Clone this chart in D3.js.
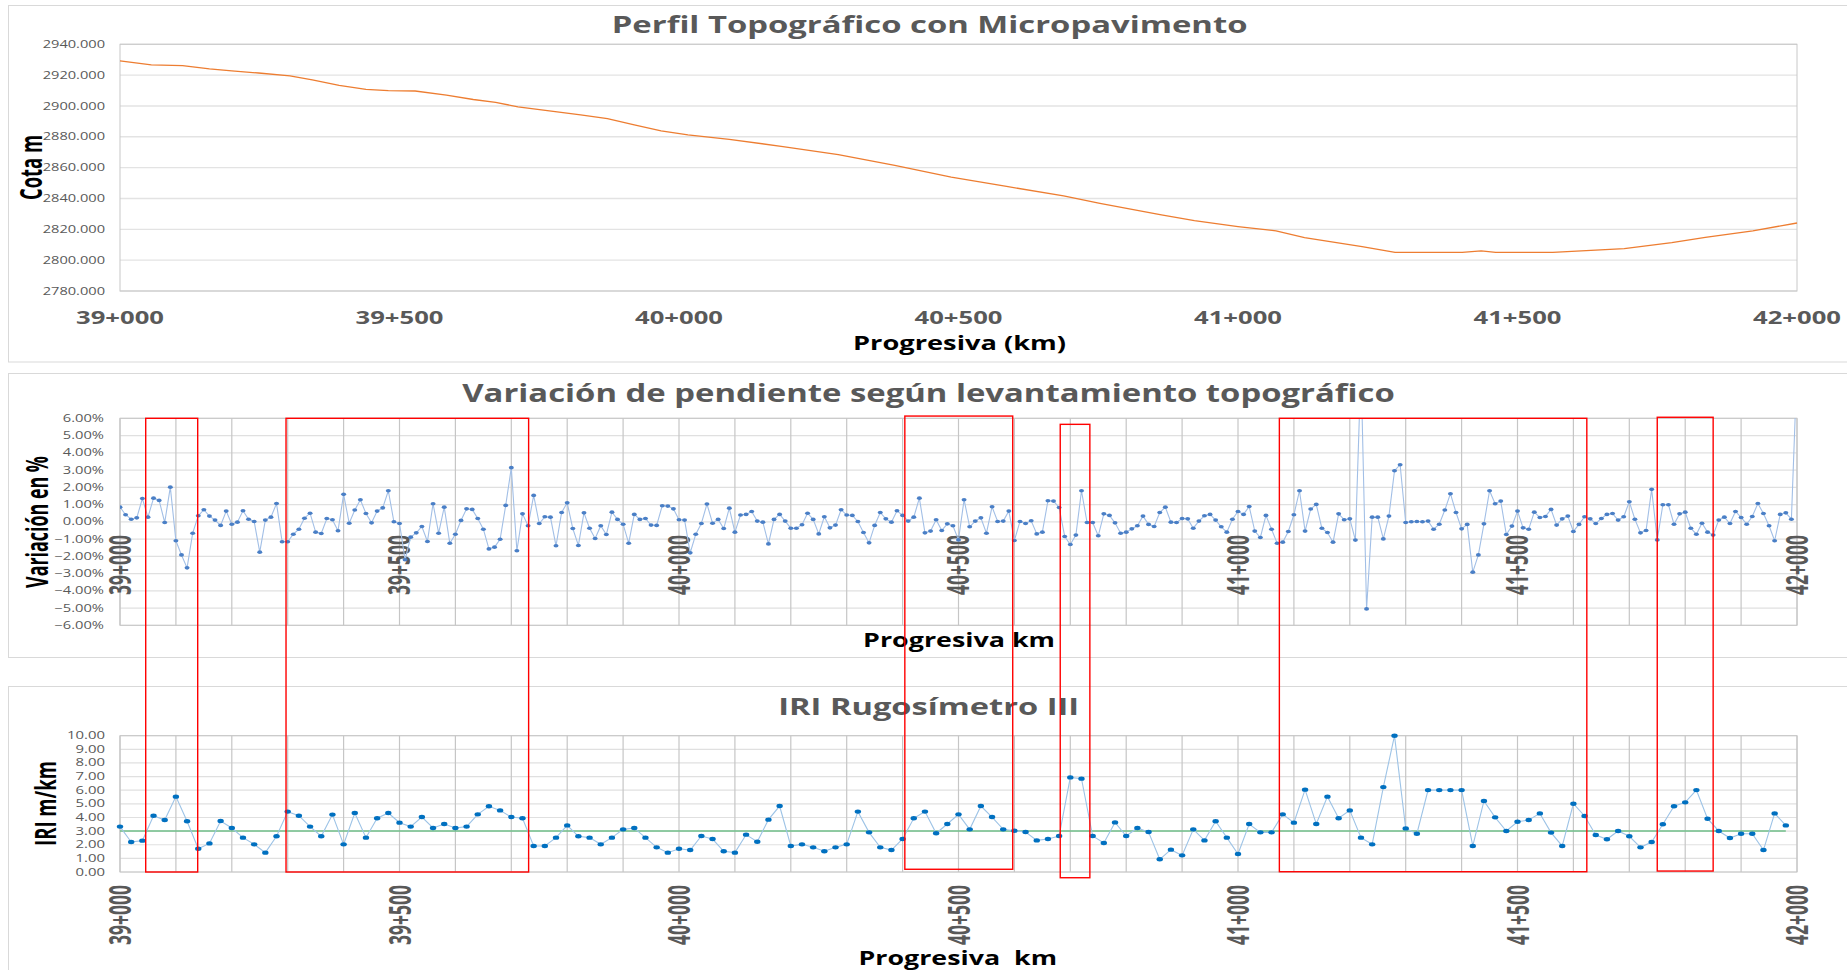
<!DOCTYPE html>
<html>
<head>
<meta charset="utf-8">
<script src="https://cdn.jsdelivr.net/npm/d3@7"></script>
<style>
body{margin:0;background:#fff;}
svg{display:block;}
text{font-family:"Open Sans",sans-serif;}
</style>
</head>
<body>
<svg id="chart" width="1847" height="970"></svg>
<script>
// perfil topografico (km, cota m)
var perfilKm = [39000,39056,39112,39160,39200,39248,39304,39344,39392,39440,39480,39528,39584,39632,39672,39712,39768,39824,39872,39920,39968,40016,
  40090,40186,40285,40386,40487,40586,40688,40753,40863,40922,41000,41068,41119,41222,41281,41401,41435,41461,41563,41691,41776,41836,41921,42000];
var perfilCota = [2929.2,2926.6,2926.2,2924.0,2922.7,2921.4,2919.5,2916.9,2913.4,2910.8,2910.0,2909.7,2907.1,2904.2,2902.4,2899.4,2896.8,2894.2,2891.8,2887.7,2883.8,2881.2,
  2878.3,2873.7,2868.4,2861.5,2853.9,2847.8,2841.7,2836.9,2829.4,2825.6,2821.8,2819.0,2814.6,2808.8,2805.1,2805.1,2806.0,2805.0,2805.1,2807.5,2811.4,2814.8,2819.0,2824.1];

// variacion de pendiente (%), cada 10 m desde 39+000
var pendStart = 39000, pendStep = 10;
var pendiente = [
  0.85,0.41,0.15,0.23,1.35,0.27,1.37,1.24,-0.04,2.01,
  -1.10,-1.92,-2.67,-0.66,0.35,0.70,0.33,0.10,-0.21,0.62,
  -0.14,-0.02,0.64,0.15,0.02,-1.76,0.10,0.27,1.06,-1.16,
  -1.16,-0.72,-0.43,0.21,0.50,-0.60,-0.68,0.19,0.12,-0.52,
  1.59,-0.08,0.68,1.28,0.48,-0.06,0.62,0.81,1.80,0.00,
  -0.10,-2.20,-0.89,-0.64,-0.27,-1.14,1.05,-0.66,0.85,-1.24,
  -0.72,0.08,0.75,0.72,0.19,-0.43,-1.57,-1.47,-1.01,0.95,
  3.14,-1.68,0.46,-0.23,1.53,-0.10,0.29,0.27,-1.39,0.54,
  1.10,-0.39,-1.37,0.52,-0.37,-0.97,-0.23,-0.74,0.56,0.14,
  -0.14,-1.24,0.43,0.14,0.19,-0.19,-0.21,0.93,0.91,0.75,
  0.12,0.10,-1.80,-0.72,-0.10,1.03,-0.08,0.14,-0.39,0.79,
  -0.60,0.39,0.43,0.60,0.04,-0.02,-1.28,0.14,0.43,0.04,
  -0.37,-0.37,-0.17,0.50,0.14,-0.70,0.29,-0.35,-0.19,0.70,
  0.39,0.37,0.02,-0.62,-1.22,-0.21,0.54,0.17,-0.02,0.64,
  0.37,0.04,0.27,1.37,-0.64,-0.54,0.12,-0.50,-0.12,-0.23,
  -1.05,1.28,-0.29,0.04,0.23,-0.66,0.87,0.02,0.04,0.62,
  -1.08,0.02,-0.10,0.06,-0.70,-0.60,1.22,1.20,0.83,-0.85,
  -1.32,-0.77,1.80,-0.04,-0.04,-0.81,0.46,0.37,-0.06,-0.66,
  -0.60,-0.41,-0.23,0.33,-0.15,-0.27,0.54,0.85,-0.02,-0.04,
  0.19,0.17,-0.37,0.04,0.35,0.43,0.10,-0.29,-0.60,0.15,
  0.60,0.43,0.89,-0.54,-0.91,0.37,-0.43,-1.24,-1.18,-0.56,
  0.41,1.80,-0.54,0.74,1.01,-0.37,-0.62,-1.18,0.46,0.12,
  0.17,-1.06,9.0,-5.05,0.27,0.27,-0.99,0.33,2.96,3.31,
  -0.04,0.00,0.02,0.00,0.04,-0.43,-0.14,0.68,1.63,0.54,
  -0.41,-0.15,-2.92,-1.92,-0.12,1.80,1.05,1.20,-0.74,-0.25,
  0.62,-0.35,-0.43,0.56,0.25,0.31,0.72,-0.19,0.17,0.33,
  -0.56,-0.15,0.29,0.17,-0.10,0.19,0.43,0.48,0.10,0.29,
  1.16,0.15,-0.64,-0.50,1.88,-1.05,0.99,0.99,-0.14,0.46,
  0.56,-0.37,-0.72,-0.08,-0.60,-0.77,0.10,0.27,-0.10,0.60,
  0.25,-0.14,0.31,1.06,0.48,-0.23,-1.10,0.43,0.52,0.15,
  9.0];

// IRI rugosimetro (m/km), cada 20 m desde 39+000
var iriStart = 39000, iriStep = 20;
var iri = [
  3.33,2.20,2.30,4.13,3.81,5.53,3.72,1.71,2.10,3.74,
  3.23,2.52,2.03,1.42,2.62,4.43,4.13,3.33,2.62,4.21,
  2.03,4.33,2.52,3.94,4.33,3.62,3.33,4.03,3.23,3.52,
  3.23,3.33,4.23,4.82,4.52,4.03,3.94,1.91,1.91,2.52,
  3.42,2.62,2.52,2.03,2.52,3.13,3.23,2.52,1.81,1.42,
  1.71,1.61,2.64,2.42,1.52,1.42,2.74,2.22,3.84,4.84,
  1.91,2.03,1.81,1.52,1.81,2.03,4.43,2.91,1.81,1.61,
  2.42,3.94,4.43,2.84,3.52,4.23,3.13,4.84,4.03,3.13,
  3.03,2.93,2.32,2.42,2.64,6.94,6.85,2.64,2.13,3.64,
  2.64,3.23,2.93,0.93,1.64,1.22,3.13,2.32,3.72,2.52,
  1.32,3.52,2.91,2.91,4.23,3.62,6.04,3.52,5.53,3.94,
  4.52,2.52,2.03,6.23,10.0,3.20,2.81,6.01,6.01,6.01,
  6.01,1.91,5.21,4.01,3.01,3.69,3.81,4.30,2.89,1.91,
  5.01,4.11,2.71,2.40,3.01,2.62,1.81,2.20,3.50,4.82,
  5.11,6.01,3.91,3.01,2.49,2.81,2.81,1.61,4.30,3.42];
var iriLimite = 3.0;

// tramos marcados en rojo (km inicio, km fin, tope en %, base en IRI)
var tramoIni = [39046,39297,40404,40682,41074,41750];
var tramoFin = [39139,39731,40597,40735,41624,41850];
var tramoTop = [6.0,6.0,6.13,5.65,6.0,6.06];
var tramoBase = [0.0,0.0,0.2,-0.42,0.02,0.07];

var xTicks = [39000,39500,40000,40500,41000,41500,42000];
var xTickLabels = ["39+000","39+500","40+000","40+500","41+000","41+500","42+000"];

var svg = d3.select("#chart");

function txt(g, s, o){
  var t = g.append("text").text(s)
    .attr("font-size", o.size)
    .attr("font-weight", o.bold ? "bold" : "normal")
    .attr("fill", o.fill || "#595959")
    .attr("text-anchor", o.anchor || "middle");
  if (o.dy) t.attr("dy", o.dy);
  if (o.pre) t.style("white-space", "pre");
  var n = t.node().getComputedTextLength();
  var k = o.len ? o.len / n : (o.k || 1);
  if (o.rot) t.attr("transform", "translate(" + o.x + "," + o.y + ") scale(1," + k + ") rotate(-90)");
  else t.attr("transform", "translate(" + o.x + "," + o.y + ") scale(" + k + ",1)");
  return t;
}

var x = d3.scaleLinear().domain([39000, 42000]).range([120, 1797]);
var y1 = d3.scaleLinear().domain([2780, 2940]).range([291, 44.3]);
var y2 = d3.scaleLinear().domain([-6, 6]).range([625.3, 418.3]);
var y3 = d3.scaleLinear().domain([0, 10]).range([872, 735.7]);

// panel frames
svg.append("rect").attr("x", 8.5).attr("y", 5.5).attr("width", 1900).attr("height", 356.5)
  .attr("fill", "none").attr("stroke", "#d9d9d9");
svg.append("rect").attr("x", 8.5).attr("y", 373.5).attr("width", 1900).attr("height", 284)
  .attr("fill", "none").attr("stroke", "#d9d9d9");
svg.append("rect").attr("x", 8.5).attr("y", 686.5).attr("width", 1900).attr("height", 400)
  .attr("fill", "none").attr("stroke", "#d9d9d9");

// ---------- chart 1 : perfil
var g1 = svg.append("g");
g1.selectAll(".h1").data(d3.range(2780, 2941, 20)).enter().append("line")
  .attr("x1", x(39000)).attr("x2", x(42000))
  .attr("y1", function(d){ return y1(d); }).attr("y2", function(d){ return y1(d); })
  .attr("stroke", "#e3e3e3").attr("stroke-width", 1.4);
g1.append("rect").attr("x", x(39000)).attr("y", y1(2940)).attr("width", x(42000) - x(39000)).attr("height", y1(2780) - y1(2940))
  .attr("fill", "none").attr("stroke", "#c8c8c8");
d3.range(2780, 2941, 20).forEach(function(v){
  txt(g1, d3.format(".3f")(v), {x: 105, y: y1(v), size: 10.3, anchor: "end", dy: "0.35em", k: 1.42});
});
xTicks.forEach(function(v, i){
  txt(g1, xTickLabels[i], {x: x(v), y: 324, size: 18, bold: true, len: 88});
});
var line1 = d3.line().x(function(d, i){ return x(perfilKm[i]); }).y(function(d){ return y1(d); });
g1.append("path").datum(perfilCota).attr("d", line1)
  .attr("fill", "none").attr("stroke", "#ed7d31").attr("stroke-width", 1.3);
txt(g1, "Perfil Topográfico con Micropavimento", {x: 929.6, y: 33.3, size: 24, bold: true, len: 636});
txt(g1, "Progresiva (km)", {x: 959.5, y: 350, size: 19.6, bold: true, fill: "#000", len: 213});
txt(g1, "Cota m", {x: 42, y: 167.5, size: 30.8, bold: true, fill: "#000", rot: true, len: 65});

// ---------- chart 2 : variacion de pendiente
var g2 = svg.append("g");
g2.selectAll(".h2").data(d3.range(-6, 7, 1)).enter().append("line")
  .attr("x1", x(39000)).attr("x2", x(42000))
  .attr("y1", function(d){ return y2(d); }).attr("y2", function(d){ return y2(d); })
  .attr("stroke", "#e0e0e0").attr("stroke-width", 1.2);
g2.selectAll(".v2").data(d3.range(39000, 42001, 100)).enter().append("line")
  .attr("x1", function(d){ return x(d); }).attr("x2", function(d){ return x(d); })
  .attr("y1", y2(6)).attr("y2", y2(-6))
  .attr("stroke", "#c6c6c6").attr("stroke-width", 1.2);
g2.append("rect").attr("x", x(39000)).attr("y", y2(6)).attr("width", x(42000) - x(39000)).attr("height", y2(-6) - y2(6))
  .attr("fill", "none").attr("stroke", "#c6c6c6");
d3.range(-6, 7, 1).forEach(function(v){
  txt(g2, d3.format(".2f")(v) + "%", {x: 104, y: y2(v), size: 10, anchor: "end", dy: "0.35em", k: 1.47});
});
xTicks.forEach(function(v, i){
  txt(g2, xTickLabels[i], {x: x(v) + 10.5, y: 565, size: 30, bold: true, rot: true, len: 60});
});
svg.append("clipPath").attr("id", "clip2").append("rect")
  .attr("x", x(39000)).attr("y", y2(6)).attr("width", x(42000) - x(39000) + 1).attr("height", y2(-6) - y2(6));
var line2 = d3.line().x(function(d, i){ return x(pendStart + i * pendStep); }).y(function(d){ return y2(d); });
var p2 = g2.append("g").attr("clip-path", "url(#clip2)");
p2.append("path").datum(pendiente).attr("d", line2)
  .attr("fill", "none").attr("stroke", "#a2bfe6").attr("stroke-width", 1.1);
p2.selectAll("ellipse").data(pendiente).enter().append("ellipse")
  .attr("cx", function(d, i){ return x(pendStart + i * pendStep); })
  .attr("cy", function(d){ return y2(d); })
  .attr("rx", 2.5).attr("ry", 1.8)
  .attr("fill", "#4a7fc6");
txt(g2, "Variación de pendiente según levantamiento topográfico", {x: 928.5, y: 401.7, size: 25.5, bold: true, len: 933});
txt(g2, "Progresiva km", {x: 959, y: 647.3, size: 19.6, bold: true, fill: "#000", len: 192});
txt(g2, "Variación en %", {x: 48.2, y: 522, size: 30, bold: true, fill: "#000", rot: true, len: 132});

// ---------- chart 3 : IRI
var g3 = svg.append("g");
g3.selectAll(".h3").data(d3.range(0, 11, 1)).enter().append("line")
  .attr("x1", x(39000)).attr("x2", x(42000))
  .attr("y1", function(d){ return y3(d); }).attr("y2", function(d){ return y3(d); })
  .attr("stroke", "#e0e0e0").attr("stroke-width", 1.2);
g3.selectAll(".v3").data(d3.range(39000, 42001, 100)).enter().append("line")
  .attr("x1", function(d){ return x(d); }).attr("x2", function(d){ return x(d); })
  .attr("y1", y3(10)).attr("y2", y3(0))
  .attr("stroke", "#c6c6c6").attr("stroke-width", 1.2);
g3.append("rect").attr("x", x(39000)).attr("y", y3(10)).attr("width", x(42000) - x(39000)).attr("height", y3(0) - y3(10))
  .attr("fill", "none").attr("stroke", "#c6c6c6");
d3.range(0, 11, 1).forEach(function(v){
  txt(g3, d3.format(".2f")(v), {x: 105, y: y3(v), size: 10, anchor: "end", dy: "0.35em", k: 1.49});
});
xTicks.forEach(function(v, i){
  txt(g3, xTickLabels[i], {x: x(v) + 11, y: 915, size: 30, bold: true, rot: true, len: 60});
});
var iriKm = iri.map(function(d, i){ return iriStart + i * iriStep; });
g3.append("line")
  .attr("x1", x(iriKm[0])).attr("x2", x(iriKm[iriKm.length - 1]))
  .attr("y1", y3(iriLimite)).attr("y2", y3(iriLimite))
  .attr("stroke", "#70bf8a").attr("stroke-width", 1.5);
var line3 = d3.line().x(function(d, i){ return x(iriKm[i]); }).y(function(d){ return y3(d); });
g3.append("path").datum(iri).attr("d", line3)
  .attr("fill", "none").attr("stroke", "#9dc3e6").attr("stroke-width", 1.1);
g3.selectAll("ellipse").data(iri).enter().append("ellipse")
  .attr("cx", function(d, i){ return x(iriKm[i]); })
  .attr("cy", function(d){ return y3(d); })
  .attr("rx", 3.2).attr("ry", 2.2)
  .attr("fill", "#0070c0");
txt(g3, "IRI Rugosímetro III", {x: 928.7, y: 715, size: 23.5, bold: true, len: 301});
txt(g3, "Progresiva  km", {x: 957.7, y: 965, size: 19.6, bold: true, fill: "#000", len: 198.5, pre: true});
txt(g3, "IRI m/km", {x: 56, y: 803.5, size: 28.7, bold: true, fill: "#000", rot: true, len: 85});

// ---------- tramos en rojo
svg.append("g").selectAll("rect").data(tramoIni).enter().append("rect")
  .attr("x", function(d){ return x(d); })
  .attr("y", function(d, i){ return y2(tramoTop[i]); })
  .attr("width", function(d, i){ return x(tramoFin[i]) - x(d); })
  .attr("height", function(d, i){ return y3(tramoBase[i]) - y2(tramoTop[i]); })
  .attr("fill", "none").attr("stroke", "#ff0000").attr("stroke-width", 1.4);
</script>
</body>
</html>
